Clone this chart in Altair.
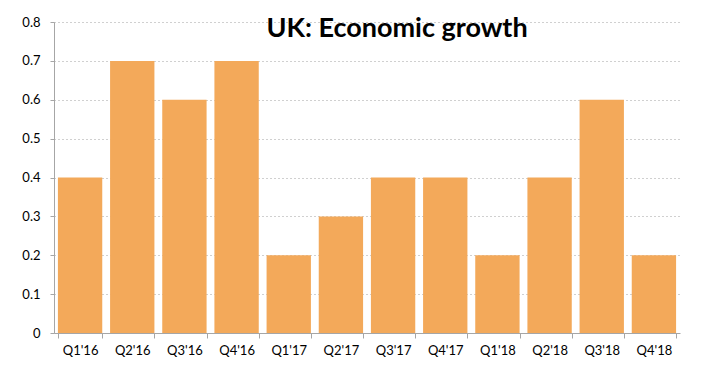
import altair as alt
import pandas as pd

quarters = ["Q1'16", "Q2'16", "Q3'16", "Q4'16", "Q1'17", "Q2'17", "Q3'17", "Q4'17",
            "Q1'18", "Q2'18", "Q3'18", "Q4'18"]
growth = [0.4, 0.7, 0.6, 0.7, 0.2, 0.3, 0.4, 0.4, 0.2, 0.4, 0.6, 0.2]
title_text = ["UK: Economic growth"]

df = pd.DataFrame({"quarter": quarters, "growth": growth})

FONT = "Lato"

bars = alt.Chart(df).mark_bar(color="#F3A95A").encode(
    x=alt.X("quarter:N", sort=quarters, title=None,
            scale=alt.Scale(paddingInner=0.15, paddingOuter=0.075),
            axis=alt.Axis(labelAngle=0, tickBand="extent", tickSize=5, tickColor="#A6A6A6",
                          domainColor="#A6A6A6", labelFont=FONT, labelFontSize=13,
                          labelColor="#000000", labelPadding=6, grid=False)),
    y=alt.Y("growth:Q", title=None,
            scale=alt.Scale(domain=[0, 0.8], nice=False),
            axis=alt.Axis(values=[0, 0.1, 0.2, 0.3, 0.4, 0.5, 0.6, 0.7, 0.8], format=".1~f",
                          tickSize=4, tickColor="#A6A6A6", domainColor="#A6A6A6",
                          labelFont=FONT, labelFontSize=13, labelColor="#000000",
                          labelPadding=10, grid=True, gridColor="#A0A0A0",
                          gridDash=[1, 3], gridWidth=1)),
)

title = alt.Chart(pd.DataFrame({"t": title_text})).mark_text(
    font=FONT, fontSize=27, fontWeight="bold", color="#000000",
    align="center", baseline="middle"
).encode(text="t:N", x=alt.value(343), y=alt.value(7))

chart = (bars + title).properties(
    width=626, height=311,
    autosize=alt.AutoSizeParams(type="none"),
    padding={"left": 46, "top": 14, "right": 10, "bottom": 35},
).configure_view(stroke=None).configure_axis(domainWidth=1)

chart.save("out.html", embed_options={"renderer": "svg", "actions": False})
